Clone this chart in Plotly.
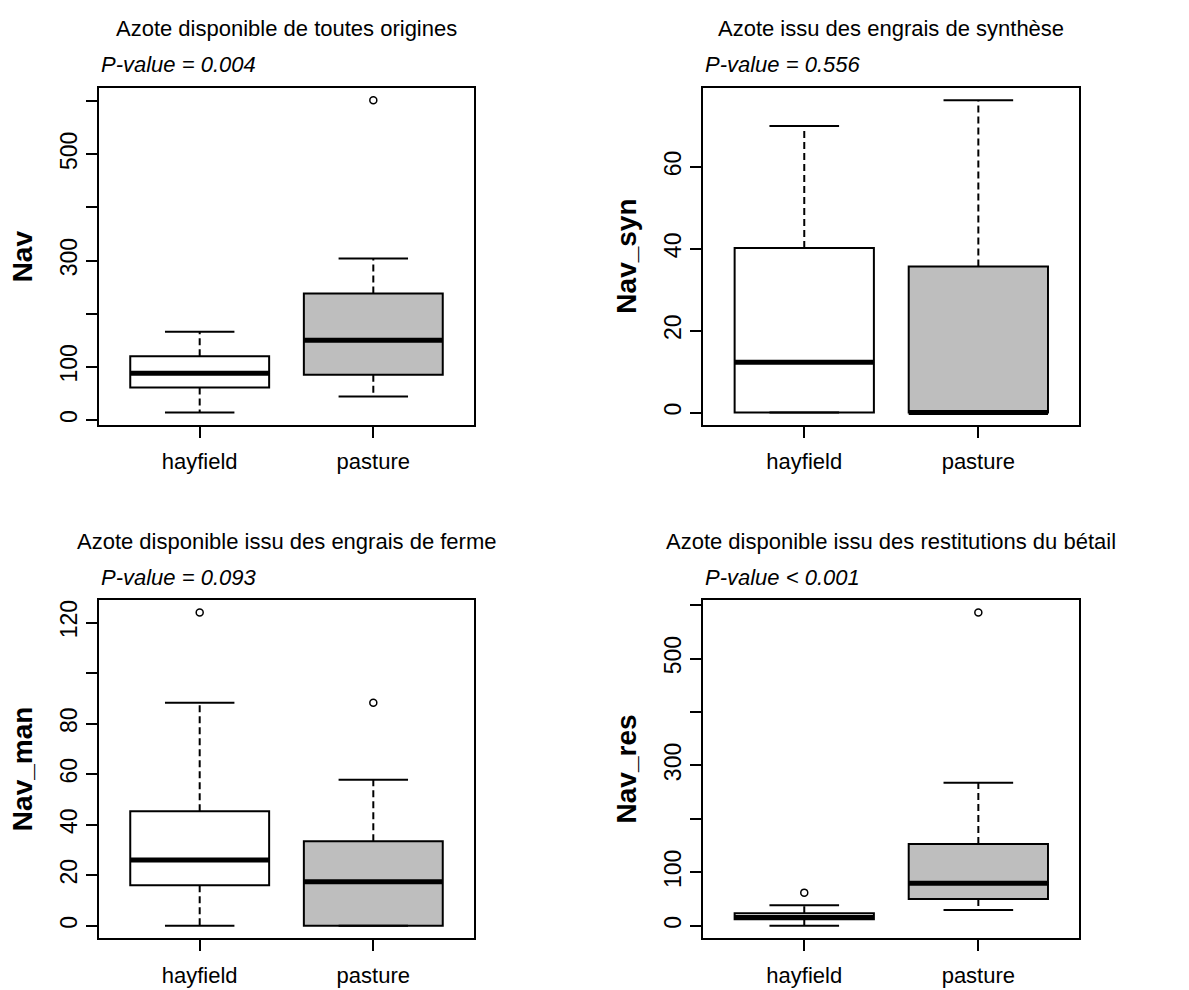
import plotly.graph_objects as go

# the page body has an 8px margin, so the figure is drawn 8px in from the corner
OFF = 8
W, H = 1189 - OFF, 990 - OFF

groups = ["hayfield", "pasture"]
group_pos = [1, 2]
fills = ["white", "#BEBEBE"]

panels = ["Nav", "Nav_syn", "Nav_man", "Nav_res"]
titles = [
    "Azote disponible de toutes origines",
    "Azote issu des engrais de synthèse",
    "Azote disponible issu des engrais de ferme",
    "Azote disponible issu des restitutions du bétail",
]
pvalues = ["P-value = 0.004", "P-value = 0.556", "P-value = 0.093", "P-value < 0.001"]

# [hayfield, pasture] per panel
lower = [[14, 44], [0, 0], [0, 0], [0, 29.4]]
q1 = [[61, 85], [0, 0], [16, 0], [12, 50]]
median = [[88, 150], [12.3, 0], [26, 17.4], [15.7, 79.4]]
q3 = [[120, 238], [40.2, 35.7], [45.3, 33.5], [23.2, 153.2]]
upper = [[166, 304], [70, 76.3], [88.3, 57.8], [38.2, 267.6]]
outliers = [[[], [602]], [[], []], [[124], [88.3]], [[62], [586]]]

tickvals = [
    [0, 100, 200, 300, 400, 500, 600],
    [0, 20, 40, 60],
    [0, 20, 40, 60, 80, 100, 120],
    [0, 100, 200, 300, 400, 500, 600],
]
ticktext = [
    ["0", "100", "", "300", "", "500", ""],
    ["0", "20", "40", "60"],
    ["0", "20", "40", "60", "80", "", "120"],
    ["0", "100", "", "300", "", "500", ""],
]

# plot area boxes in page pixels: left, right, top, bottom
boxes = [
    (99, 474, 87.7, 425),
    (703.3, 1079.3, 87.7, 425),
    (99, 474, 600, 938.3),
    (703.3, 1079.3, 600, 938.3),
]


def px(x):
    return (x - OFF) / W


def py(y):
    return 1 - (y - OFF) / H


FONT = "Liberation Sans, Arial, sans-serif"
BW = 0.8      # box width
CAP = 0.2     # half width of whisker staple
LW = 2

fig = go.Figure()
annotations = []
layout = {}

for i in range(4):
    sfx = "" if i == 0 else str(i + 1)
    xa, ya = "x" + sfx, "y" + sfx
    for g in range(2):
        fig.add_trace(go.Box(
            x=[group_pos[g]], q1=[q1[i][g]], median=[median[i][g]], q3=[q3[i][g]],
            lowerfence=[q1[i][g]], upperfence=[q3[i][g]],
            width=BW, whiskerwidth=0, boxpoints=False,
            fillcolor=fills[g], line=dict(color="black", width=LW),
            xaxis=xa, yaxis=ya, showlegend=False, hoverinfo="skip",
        ))
    wx, wy, cx, cy, mx, my, ox, oy = [], [], [], [], [], [], [], []
    for g in range(2):
        p = group_pos[g]
        if upper[i][g] > q3[i][g]:
            wx += [p, p, None]; wy += [q3[i][g], upper[i][g], None]
        if lower[i][g] < q1[i][g]:
            wx += [p, p, None]; wy += [q1[i][g], lower[i][g], None]
        cx += [p - CAP, p + CAP, None, p - CAP, p + CAP, None]
        cy += [upper[i][g], upper[i][g], None, lower[i][g], lower[i][g], None]
        mx += [p - BW / 2, p + BW / 2, None]
        my += [median[i][g], median[i][g], None]
        ox += [p] * len(outliers[i][g]); oy += outliers[i][g]
    fig.add_trace(go.Scatter(x=wx, y=wy, mode="lines", xaxis=xa, yaxis=ya,
                             line=dict(color="black", width=LW, dash="7px,4px"),
                             showlegend=False, hoverinfo="skip"))
    fig.add_trace(go.Scatter(x=cx, y=cy, mode="lines", xaxis=xa, yaxis=ya,
                             line=dict(color="black", width=LW),
                             showlegend=False, hoverinfo="skip"))
    fig.add_trace(go.Scatter(x=mx, y=my, mode="lines", xaxis=xa, yaxis=ya,
                             line=dict(color="black", width=5),
                             showlegend=False, hoverinfo="skip"))
    fig.add_trace(go.Scatter(x=ox, y=oy, mode="markers", xaxis=xa, yaxis=ya,
                             marker=dict(symbol="circle-open", size=7, color="black",
                                         line=dict(width=1.5)),
                             showlegend=False, hoverinfo="skip"))

    allv = lower[i] + upper[i] + sum(outliers[i], [])
    lo, hi = min(allv), max(allv)
    pad = 0.04 * (hi - lo)
    L, R, T, B = boxes[i]
    axis_common = dict(showline=True, mirror=True, linecolor="black", linewidth=LW,
                       ticks="outside", ticklen=11, tickwidth=LW, tickcolor="black",
                       showgrid=False, zeroline=False, fixedrange=True)
    layout["xaxis" + sfx] = dict(axis_common, domain=[px(L), px(R)], anchor=ya,
                                 range=[0.42, 2.58], tickvals=group_pos, ticktext=groups,
                                 ticklabelstandoff=5,
                                 tickfont=dict(family=FONT, size=22, color="black"))
    layout["yaxis" + sfx] = dict(axis_common, domain=[py(B), py(T)], anchor=xa,
                                 range=[lo - pad, hi + pad], tickvals=tickvals[i],
                                 ticktext=ticktext[i], tickangle=-90,
                                 tickfont=dict(family=FONT, size=23, color="black"))
    cxp = (L + R) / 2
    annotations.append(dict(text=titles[i], x=px(cxp), y=py(T - 59), xref="paper",
                            yref="paper", xanchor="center", yanchor="middle", showarrow=False,
                            font=dict(family=FONT, size=22, color="black")))
    annotations.append(dict(text="<i>" + pvalues[i] + "</i>", x=px(L), y=py(T - 23),
                            xref="paper", yref="paper", xanchor="left", yanchor="middle",
                            showarrow=False, font=dict(family=FONT, size=22, color="black")))
    annotations.append(dict(text="<b>" + panels[i] + "</b>", x=px(L - 77),
                            y=py((T + B) / 2), xref="paper", yref="paper",
                            xanchor="center", yanchor="middle", textangle=-90,
                            showarrow=False, font=dict(family=FONT, size=28, color="black")))

fig.update_layout(width=W, height=H, margin=dict(l=0, r=0, t=0, b=0),
                  paper_bgcolor="white", plot_bgcolor="white",
                  annotations=annotations, **layout)
fig.write_html("out.html")
